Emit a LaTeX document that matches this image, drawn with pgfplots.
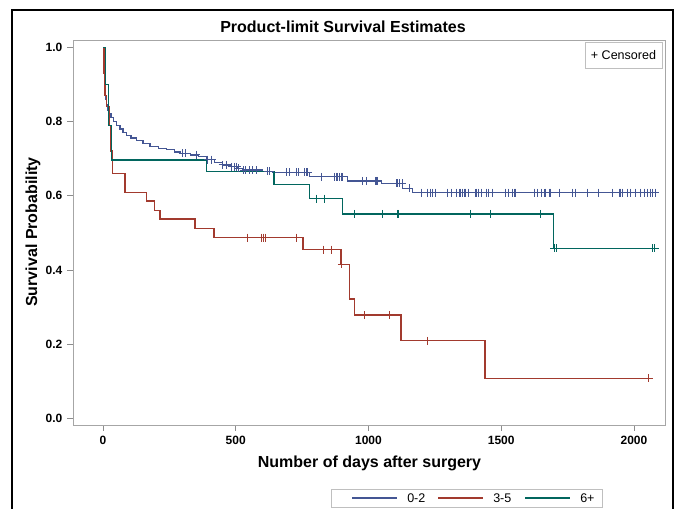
\documentclass[border=0pt]{standalone}
\usepackage{fontspec}
\setmainfont{Liberation Sans}
\usepackage{pgfplots}
\pgfplotsset{compat=1.18}
\definecolor{cblue}{HTML}{445694}
\definecolor{cred}{HTML}{A23A2E}
\definecolor{cgreen}{HTML}{01665E}
\begin{document}
\begin{tikzpicture}[x=0.75pt,y=0.75pt]
\path[use as bounding box] (0,0) rectangle (680,509);
\draw[black, line width=1.1pt] (12,-10) -- (12,499) -- (673,499) -- (673,-10);
\node[font=\fontsize{12}{14}\selectfont\bfseries] at (343,482) {Product-limit Survival Estimates};
\begin{axis}[
  at={(54.75pt,63pt)}, anchor=south west, scale only axis,
  width=444pt, height=288.75pt,
  xmin=-113, xmax=2117, ymin=-0.018, ymax=1.0197,
  xtick={0,500,1000,1500,2000}, ytick={0,0.2,0.4,0.6,0.8,1.0},
  xtick pos=left, ytick pos=left,
  tick align=outside, major tick length=4.5pt,
  axis line style={black!35, line width=0.6pt},
  tick style={black!45, line width=0.6pt},
  /pgf/number format/assume math mode=true,
  tick label style={font=\fontsize{9}{10}\selectfont\bfseries},
  xticklabel style={/pgf/number format/1000 sep={}},
  yticklabel style={/pgf/number format/.cd, fixed, fixed zerofill, precision=1},
  mark options={solid},
]
% 0-2 survival
\addplot[cblue, line width=1.05pt, const plot, mark=none] coordinates {
(0,1.0) (1,0.975) (2,0.955) (3,0.935) (5,0.915) (6,0.895) (8,0.875) (10,0.86) (13,0.845) (17,0.83)
(22,0.82) (30,0.81) (39,0.80) (50,0.79) (64,0.78) (75,0.77) (89,0.762) (105,0.755) (126,0.748) (150,0.74)
(177,0.732) (210,0.728) (239,0.724) (270,0.718) (290,0.714) (330,0.71) (360,0.705) (390,0.697) (420,0.69)
(451,0.683) (480,0.678) (505,0.674) (527,0.669) (600,0.666) (640,0.663) (778,0.651) (921,0.640)
(1048,0.633) (1128,0.62) (1166,0.608) (2081,0.608)};
% 3-5 survival
\addplot[cred, line width=1.05pt, const plot, mark=none] coordinates {
(0,1.0) (4,0.93) (8,0.87) (14,0.84) (25,0.79) (30,0.72) (35,0.66) (83,0.609) (164,0.586) (195,0.560)
(214,0.537) (346,0.512) (418,0.487) (753,0.455) (897,0.415) (929,0.322) (947,0.278) (1123,0.209)
(1439,0.108) (2056,0.108)};
% 6+ survival
\addplot[cgreen, line width=1.05pt, const plot, mark=none] coordinates {
(0,1.0) (10,0.9) (20,0.79) (33,0.696) (390,0.666) (644,0.630) (778,0.592) (903,0.551) (1697,0.458) (2081,0.458)};
% censored 0-2
\addplot[cblue, only marks, mark=+, mark size=3pt, line width=0.8pt] coordinates {
(300,0.714) (312,0.714) (352,0.71) (395,0.697) (410,0.697) (451,0.683) (466,0.683) (485,0.678) (496,0.678)
(504,0.678) (511,0.674) (530,0.669) (538,0.669) (553,0.669) (564,0.669) (579,0.669) (620,0.666) (628,0.666)
(690,0.663) (703,0.663) (730,0.663) (738,0.663) (759,0.663) (765,0.663) (771,0.663)
(822,0.651) (872,0.651) (878,0.651) (885,0.651) (891,0.651) (897,0.651) (903,0.651)
(979,0.640) (991,0.640) (1026,0.640) (1031,0.640) (1035,0.640)
(1104,0.633) (1110,0.633) (1117,0.633) (1127,0.633) (1154,0.62)
(1198,0.608) (1223,0.608) (1233,0.608) (1242,0.608) (1254,0.608) (1298,0.608) (1311,0.608) (1330,0.608)
(1342,0.608) (1348,0.608) (1355,0.608) (1361,0.608) (1367,0.608) (1377,0.608) (1405,0.608) (1415,0.608)
(1424,0.608) (1443,0.608) (1452,0.608) (1467,0.608) (1517,0.608) (1527,0.608) (1542,0.608) (1549,0.608)
(1555,0.608) (1624,0.608) (1637,0.608) (1653,0.608) (1665,0.608) (1683,0.608) (1687,0.608) (1718,0.608)
(1768,0.608) (1781,0.608) (1824,0.608) (1868,0.608) (1918,0.608) (1944,0.608) (1950,0.608) (1956,0.608)
(1975,0.608) (1988,0.608) (2006,0.608) (2025,0.608) (2038,0.608) (2050,0.608) (2063,0.608) (2071,0.608)
(2081,0.608)};
% censored 3-5
\addplot[cred, only marks, mark=+, mark size=3pt, line width=0.8pt] coordinates {
(546,0.487) (597,0.487) (605,0.487) (612,0.487) (730,0.487) (831,0.455) (860,0.455) (900,0.415)
(985,0.278) (1079,0.278) (1223,0.209) (2056,0.108)};
% censored 6+
\addplot[cgreen, only marks, mark=+, mark size=3pt, line width=0.8pt] coordinates {
(803,0.592) (835,0.592) (947,0.551) (1054,0.551) (1108,0.551) (1114,0.551) (1386,0.551) (1458,0.551)
(1647,0.551) (1699,0.458) (1708,0.458) (2069,0.458) (2078,0.458)};
\end{axis}
% censored box
\draw[black!25, line width=0.6pt] (585,467) rectangle (662,441);
\node[font=\fontsize{9.4}{11}\selectfont] at (623.5,454) {+ Censored};
% axis labels
\node[font=\fontsize{12}{14}\selectfont\bfseries] at (369.5,46) {Number of days after surgery};
\node[font=\fontsize{12}{14}\selectfont\bfseries, rotate=90] at (33,277) {Survival Probability};
% legend
\draw[black!25, line width=0.6pt] (331,2) rectangle (602,20);
\draw[cblue, line width=1.05pt] (352,11) -- (397,11);
\node[anchor=west, inner sep=0pt, font=\fontsize{9.4}{11}\selectfont] at (407,11) {0-2};
\draw[cred, line width=1.05pt] (438,11) -- (483,11);
\node[anchor=west, inner sep=0pt, font=\fontsize{9.4}{11}\selectfont] at (493,11) {3-5};
\draw[cgreen, line width=1.05pt] (525,11) -- (570,11);
\node[anchor=west, inner sep=0pt, font=\fontsize{9.4}{11}\selectfont] at (580,11) {6+};
\end{tikzpicture}
\end{document}
